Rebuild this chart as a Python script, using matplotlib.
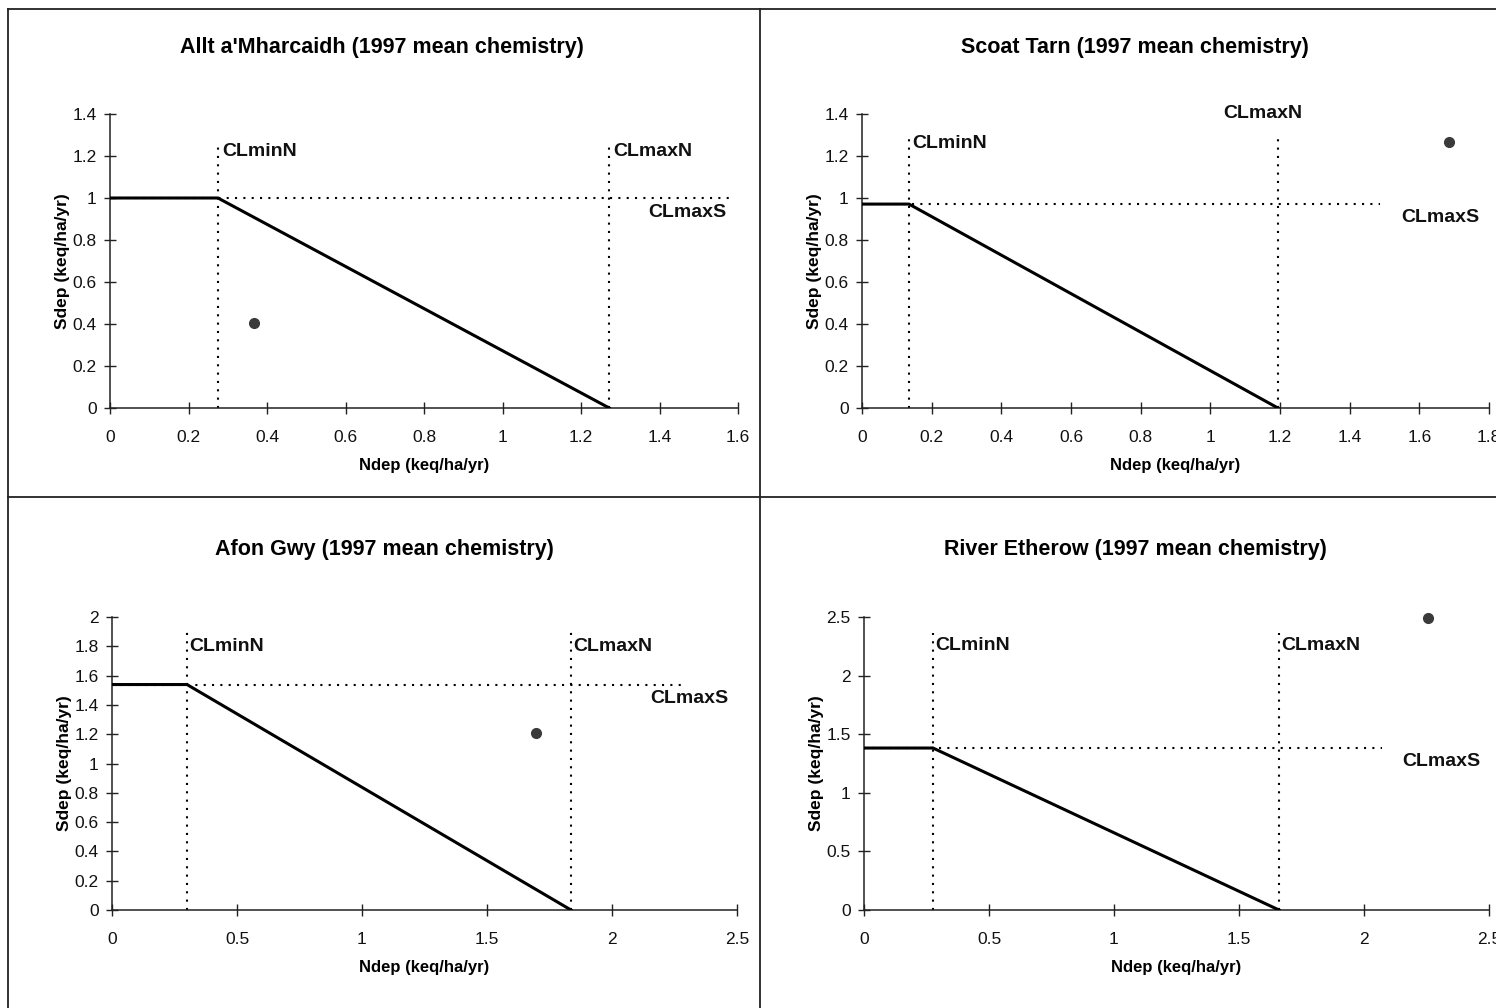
import numpy as np
import matplotlib
matplotlib.use("Agg")
import matplotlib.pyplot as plt
from matplotlib.ticker import MultipleLocator, FuncFormatter
from matplotlib.lines import Line2D

plt.rcParams['font.family'] = ['Liberation Sans', 'DejaVu Sans']

# Данные по участкам
sites = ["Allt a'Mharcaidh", "Scoat Tarn", "Afon Gwy", "River Etherow"]
cl_min_n = [0.275, 0.135, 0.30, 0.276]
cl_max_n = [1.272, 1.194, 1.836, 1.66]
cl_max_s = [1.0, 0.971, 1.539, 1.382]
n_dep = [0.367, 1.684, 1.696, 2.256]
s_dep = [0.405, 1.267, 1.207, 2.49]
x_max = [1.6, 1.8, 2.5, 2.5]
y_max = [1.4, 1.4, 2.0, 2.5]
x_step = [0.2, 0.2, 0.5, 0.5]
y_step = [0.2, 0.2, 0.2, 0.5]
# концы пунктирных линий
s_line_end = [1.587, 1.486, 2.30, 2.07]
n_line_top = [1.25, 1.28, 1.9, 2.36]

# положение подписей (данные), отдельно от значений
lbl_min_n = [(0.285, 1.22), (0.145, 1.26), (0.31, 1.80), (0.286, 2.26)]
lbl_max_n = [(1.282, 1.22), (1.15, 1.40), (1.846, 1.80), (1.67, 2.26)]
lbl_max_s = [(1.47, 0.93), (1.66, 0.905), (2.31, 1.445), (2.31, 1.263)]
lbl_max_n_ha = ['left', 'center', 'left', 'left']

fig = plt.figure(figsize=(14.96, 10.08), dpi=100)
W, H = 1496, 1008

# рамки панелей
def fig_line(x0, y0, x1, y1):
    fig.add_artist(Line2D([x0 / W, x1 / W], [1 - y0 / H, 1 - y1 / H],
                          transform=fig.transFigure, color='#222222', lw=1.3))

fig_line(8, 9, W, 9)
fig_line(8, 9, 8, H)
fig_line(760, 9, 760, H)
fig_line(8, 497, W, 497)

# позиции осей в пикселях: left, right, top, bottom
boxes = [(110, 738, 114, 408), (862, 1489, 114, 408),
         (112, 737, 617, 910), (864, 1489, 617, 910)]
title_pos = [(382, 48), (1135, 48), (384, 550), (1135, 550)]

fmt = FuncFormatter(lambda v, p: '%g' % round(v, 6))

for i in range(4):
    l, r, t, b = boxes[i]
    ax = fig.add_axes([l / W, 1 - b / H, (r - l) / W, (b - t) / H])

    # кусочно-линейная граница критической нагрузки
    ax.plot([0, cl_min_n[i], cl_max_n[i]], [cl_max_s[i], cl_max_s[i], 0],
            color='black', lw=2.2, solid_joinstyle='miter', zorder=3)
    ax.plot([0, s_line_end[i]], [cl_max_s[i], cl_max_s[i]],
            color='black', lw=1.5, ls=(0, (1, 3)), zorder=2)
    ax.plot([cl_min_n[i], cl_min_n[i]], [0, n_line_top[i]],
            color='black', lw=1.5, ls=(0, (1, 3)), zorder=2)
    ax.plot([cl_max_n[i], cl_max_n[i]], [0, n_line_top[i]],
            color='black', lw=1.5, ls=(0, (1, 3)), zorder=2)
    ax.plot(n_dep[i], s_dep[i], 'o', color='#3a3a3a', ms=7, zorder=4,
            clip_on=False)

    ax.text(*lbl_min_n[i], 'CLminN', ha='left', va='center', fontsize=14,
            fontweight='bold', color='#111111')
    ax.text(*lbl_max_n[i], 'CLmaxN', ha=lbl_max_n_ha[i], va='center',
            fontsize=14, fontweight='bold', color='#111111', clip_on=False)
    ax.text(*lbl_max_s[i], 'CLmaxS', ha='center', va='center', fontsize=14,
            fontweight='bold', color='#111111')

    ax.set_xlim(0, x_max[i])
    ax.set_ylim(0, y_max[i])
    ax.xaxis.set_major_locator(MultipleLocator(x_step[i]))
    ax.yaxis.set_major_locator(MultipleLocator(y_step[i]))
    ax.xaxis.set_major_formatter(fmt)
    ax.yaxis.set_major_formatter(fmt)
    for s in ['top', 'right']:
        ax.spines[s].set_visible(False)
    for s in ['left', 'bottom']:
        ax.spines[s].set_linewidth(1.1)
        ax.spines[s].set_color('#222222')
    ax.tick_params(direction='inout', length=9, width=1.0, labelsize=12.5,
                   color='#222222', labelcolor='#111111')
    ax.tick_params(axis='x', pad=11)
    ax.tick_params(axis='y', pad=5)
    ax.set_xlabel('Ndep (keq/ha/yr)', fontsize=12, fontweight='bold',
                  labelpad=10)
    ax.set_ylabel('Sdep (keq/ha/yr)', fontsize=12.5, fontweight='bold',
                  labelpad=2)

    tx, ty = title_pos[i]
    fig.text(tx / W, 1 - ty / H, sites[i] + ' (1997 mean chemistry)',
             ha='center', va='center', fontsize=15.5, fontweight='bold')

fig.savefig('out.png', dpi=100)
